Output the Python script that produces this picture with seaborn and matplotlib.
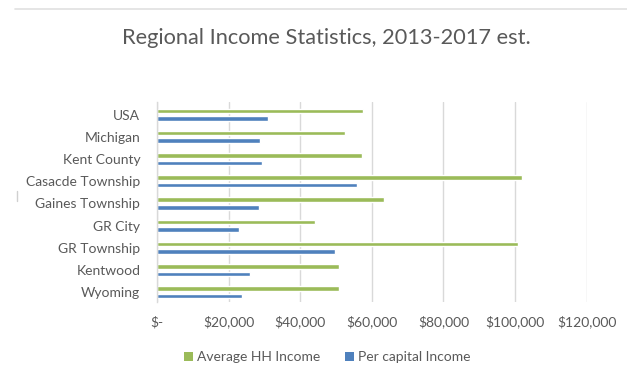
import matplotlib
matplotlib.use("Agg")
import matplotlib.pyplot as plt
from matplotlib.lines import Line2D
from matplotlib.patches import Patch
from matplotlib.ticker import FuncFormatter
import seaborn as sns
import pandas as pd

regions = ["USA", "Michigan", "Kent County", "Casacde Township", "Gaines Township",
           "GR City", "GR Township", "Kentwood", "Wyoming"]
avg_hh_income = [57600, 52500, 57300, 102000, 63500, 44200, 100900, 50700, 50700]
per_capita_income = [31100, 28900, 29200, 55900, 28600, 23000, 49600, 26000, 23700]
series_names = ["Average HH Income", "Per capital Income"]
series_colors = ["#9BBB59", "#4F81BD"]
x_ticks = [0, 20000, 40000, 60000, 80000, 100000, 120000]

df = pd.DataFrame({
    "Region": regions * 2,
    "Income": avg_hh_income + per_capita_income,
    "Series": [series_names[0]] * len(regions) + [series_names[1]] * len(regions),
})

sns.set_theme(style="white")
plt.rcParams["font.family"] = ["Lato", "DejaVu Sans"]

text_gray = "#595959"
grid_gray = "#D9D9D9"

fig = plt.figure(figsize=(6.27, 3.80), dpi=100)
ax = fig.add_axes([157 / 627, 1 - 301.7 / 380, (586.7 - 157) / 627, 200 / 380])

sns.barplot(data=df, y="Region", x="Income", hue="Series", order=regions,
            hue_order=series_names, palette=series_colors, orient="h",
            width=0.68, gap=0.4, saturation=1, legend=False, ax=ax)

ax.set_xlim(0, 120000)
ax.set_ylim(len(regions) - 0.58, -0.58)
ax.set_xticks(x_ticks)
ax.xaxis.set_major_formatter(FuncFormatter(lambda v, p: "$-" if v == 0 else f"${v:,.0f}"))
ax.grid(axis="x", color=grid_gray, linewidth=1)
ax.grid(axis="y", visible=False)
ax.set_axisbelow(True)
for s in ["top", "right", "bottom"]:
    ax.spines[s].set_visible(False)
ax.spines["left"].set_color(grid_gray)
ax.spines["left"].set_linewidth(1)
ax.set_xlabel("")
ax.set_ylabel("")
ax.tick_params(axis="x", colors=grid_gray, length=3, width=1, pad=7,
               labelcolor=text_gray, labelsize=10)
ax.tick_params(axis="y", length=0, pad=12, labelcolor=text_gray, labelsize=10)

fig.text(326 / 627, 1 - 44 / 380, "Regional Income Statistics, 2013-2017 est.",
         ha="center", va="baseline", fontsize=15.7, color=text_gray)

handles = [Patch(facecolor=c, edgecolor="none") for c in series_colors]
fig.legend(handles, series_names, loc="center", bbox_to_anchor=(0.522, 1 - 357 / 380),
           ncol=2, frameon=False, fontsize=10, labelcolor=text_gray,
           handlelength=0.6, handleheight=0.6, handletextpad=0.3, columnspacing=1.8)

# chart frame remnants
fig.add_artist(Line2D([15 / 627, 1], [1 - 9 / 380] * 2, color="#E0E0E0", linewidth=1.2))
fig.add_artist(Line2D([17 / 627] * 2, [1 - 191 / 380, 1 - 201 / 380], color="#D0D0D0", linewidth=1))

fig.savefig("out.png", dpi=100)
